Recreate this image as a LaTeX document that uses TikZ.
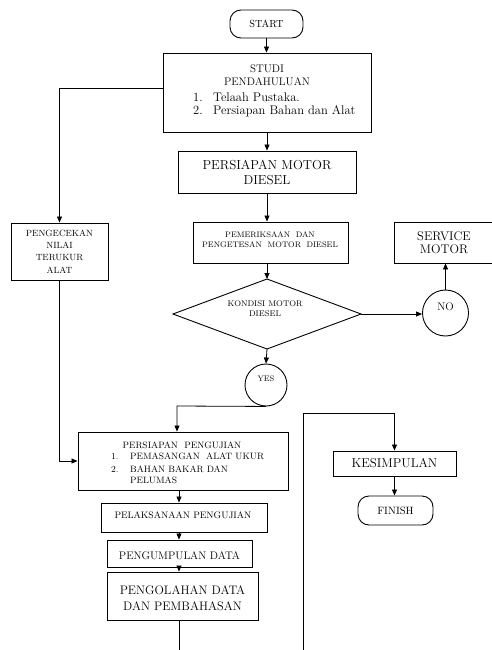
\documentclass[tikz,border=0pt]{standalone}
\usepackage{fontspec}
\usetikzlibrary{arrows.meta}
\begin{document}
\begin{tikzpicture}[x=1pt,y=-1pt,
  box/.style={draw, line width=0.9pt, inner sep=0pt, align=center},
  term/.style={box, rounded corners=11pt},
  circ/.style={draw, circle, line width=0.9pt, inner sep=0pt},
  txt/.style={inner sep=0pt, align=center},
  lft/.style={inner sep=0pt, anchor=base west},
  arr/.style={line width=0.8pt, -{Triangle[length=6pt,width=5pt]}},
  ln/.style={line width=0.8pt}]
\useasboundingbox (0,0) rectangle (492,650);
\fill[white] (0,0) rectangle (492,650);

% terminals and boxes
\node[term, minimum width=73pt, minimum height=28pt, font=\fontsize{10.3}{12}\selectfont] (start) at (266.5,24) {START};

\node[box, minimum width=208pt, minimum height=79pt] (studi) at (267,92.5) {};
\node[txt, font=\fontsize{11}{13}\selectfont] (studiT) at (267,75) {STUDI\\PENDAHULUAN};
\node[lft, font=\fontsize{12.5}{14}\selectfont] (sn1) at (193,101.5) {1.};
\node[lft, font=\fontsize{12.5}{14}\selectfont] (st1) at (213,101.5) {Telaah Pustaka.};
\node[lft, font=\fontsize{12.5}{14}\selectfont] (sn2) at (193,114.5) {2.};
\node[lft, font=\fontsize{12.5}{14}\selectfont] (st2) at (213,114.5) {Persiapan Bahan dan Alat};

\node[box, minimum width=178pt, minimum height=42pt, font=\fontsize{13}{15}\selectfont] (pmd) at (267,172) {PERSIAPAN MOTOR\\DIESEL};

\node[box, minimum width=155pt, minimum height=41pt] (pem) at (270.5,242.5) {};
\node[txt, font=\fontsize{8}{10}\selectfont] (pemT) at (270,239.5) {PEMERIKSAAN\ \ DAN\\PENGETESAN\ \ MOTOR\ \ DIESEL};

% decision
\coordinate (dt) at (267,279);
\coordinate (dr) at (361,314);
\coordinate (db) at (267,349);
\coordinate (dl) at (173,314);
\draw[line width=0.9pt] (dt) -- (dr) -- (db) -- (dl) -- cycle;
\node[txt, font=\fontsize{8.2}{9.5}\selectfont] (kond) at (265,308.5) {KONDISI MOTOR\\DIESEL};

\node[circ, minimum size=46pt] (no) at (445.5,313) {};
\node[txt, font=\fontsize{11}{12}\selectfont] (noT) at (445.5,307) {NO};

\node[box, minimum width=100pt, minimum height=41pt, font=\fontsize{12.5}{13}\selectfont] (svc) at (444,242.5) {SERVICE\\MOTOR};

\node[circ, minimum size=42pt] (yes) at (266,385) {};
\node[txt, font=\fontsize{8}{10}\selectfont] (yesT) at (266,378.5) {YES};

\node[box, minimum width=97pt, minimum height=57pt, font=\fontsize{9}{12.3}\selectfont] (cek) at (59.5,251.5) {PENGECEKAN\\NILAI\\TERUKUR\\ALAT};

\node[box, minimum width=210pt, minimum height=58pt] (ppj) at (183,461) {};
\node[txt, font=\fontsize{9.2}{11}\selectfont] (ppjT) at (182,445) {PERSIAPAN\ \ PENGUJIAN};
\node[lft, font=\fontsize{9.2}{11}\selectfont] (pn1) at (111,459.5) {1.};
\node[lft, font=\fontsize{9.2}{11}\selectfont] (pt1) at (130,459.5) {PEMASANGAN\ \ ALAT UKUR};
\node[lft, font=\fontsize{9.2}{11}\selectfont] (pn2) at (111,472.5) {2.};
\node[lft, font=\fontsize{9.2}{11}\selectfont] (pt2) at (130,472.5) {BAHAN BAKAR DAN};
\node[lft, font=\fontsize{9.2}{11}\selectfont] (pt3) at (130,483.5) {PELUMAS};

\node[box, minimum width=166pt, minimum height=29pt] (pel) at (184,517.5) {};
\node[txt, font=\fontsize{9.4}{11}\selectfont] (pelT) at (183,515) {PELAKSANAAN PENGUJIAN};

\node[box, minimum width=145pt, minimum height=27pt] (pgp) at (179.5,553.5) {};
\node[txt, font=\fontsize{11}{13}\selectfont] (pgpT) at (179.5,555.5) {PENGUMPULAN DATA};

\node[box, minimum width=151pt, minimum height=48pt] (pgl) at (182.5,596) {};
\node[txt, font=\fontsize{12.3}{16}\selectfont] (pglT) at (182.5,598.5) {PENGOLAHAN DATA\\DAN PEMBAHASAN};

\node[box, minimum width=123pt, minimum height=25pt, font=\fontsize{12.8}{14}\selectfont] (kes) at (394.5,463.5) {KESIMPULAN};
\node[term, minimum width=75pt, minimum height=29pt, font=\fontsize{10.6}{12}\selectfont] (fin) at (395.5,510.5) {FINISH};

% connectors
\draw[arr] (start.south) -- (start.south |- studi.north);
\draw[arr] ([yshift=4.5pt]studi.west) -| (cek.north);
\draw[arr] (studi.south) -- (pmd.north);
\draw[arr] (pmd.south) -- (pmd.south |- pem.north);
\draw[arr] (pmd.south |- pem.south) -- (dt);
\draw[arr] (dr) -- (dr -| no.west);
\draw[arr] (no.north) -- (no.north |- svc.south);
\draw[arr] (db) -- (yes.north);
\coordinate (ybend) at (177,406);
\draw[arr] (yes.south) -- (ybend) -- (ybend |- ppj.north);
\draw[arr] (cek.south) |- (ppj.west);
\coordinate (colx) at (179,0);
\draw[arr] (colx |- ppj.south) -- (colx |- pel.north);
\draw[arr] (colx |- pel.south) -- (colx |- pgp.north);
\draw[arr] (colx |- pgp.south) -- (colx |- pgl.north);
\coordinate (tail) at (179,650);
\draw[ln] (colx |- pgl.south) -- (tail);
\coordinate (lb) at (303,650);
\coordinate (lt) at (303,413);
\draw[arr] (lb) -- (lt) -| (kes.north);
\draw[arr] (kes.south) -- (kes.south |- fin.north);
\end{tikzpicture}
\end{document}
